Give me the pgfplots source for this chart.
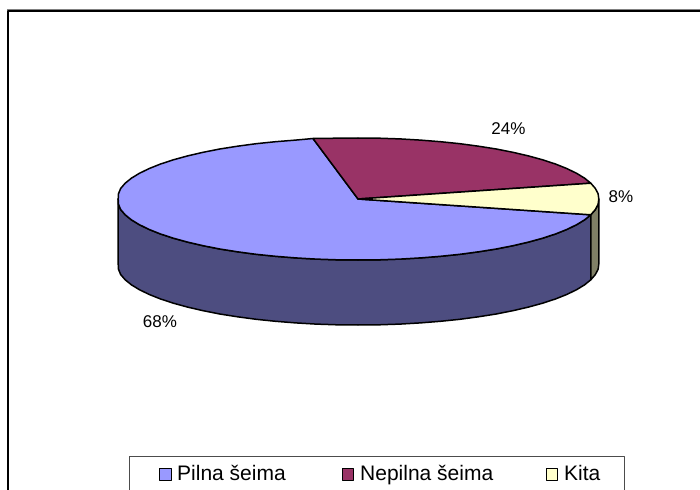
\documentclass[border=0pt]{standalone}
\usepackage{pgfplots}
\pgfplotsset{compat=1.18}
\usepackage{fontspec}
\setmainfont{Liberation Sans}
\definecolor{pblue}{HTML}{9999FF}
\definecolor{pbluew}{HTML}{4D4D80}
\definecolor{pmar}{HTML}{993366}
\definecolor{pyel}{HTML}{FFFFCC}
\definecolor{pyelw}{HTML}{808066}
\newcommand{\lab}{\fontsize{17bp}{18bp}\selectfont}
\newcommand{\leg}{\fontsize{21bp}{22bp}\selectfont}
\begin{document}
\begin{tikzpicture}[x=1bp,y=1bp]
\begin{axis}[
  scale only axis, width=700bp, height=490bp,
  xmin=0, xmax=700, ymin=0, ymax=490, y dir=reverse,
  hide axis, clip=true,
  every axis plot/.append style={line width=1.5bp, draw=black, line join=round},
]
% outer frame
\addplot[line width=2bp, draw=black, forget plot] coordinates {(8,490) (8,10.7) (700,10.7)};
\addplot[line width=0.8bp, draw=black!50, forget plot] coordinates {(7,9.2) (700,9.2)};
% front wall, blue
\addplot[fill=pbluew] coordinates {
(590.8,214.8)(584.5,219.9)(576.4,224.8)(566.7,229.5)(555.4,234)(542.6,238.2)(528.4,242.1)(512.9,245.7)(496.2,249)(478.5,251.8)(459.9,254.3)(440.4,256.3)(420.4,257.9)(399.8,259.1)(379,259.8)(358,260)(337,259.8)(316.2,259.1)(295.6,257.9)(275.6,256.3)(256.1,254.3)(237.5,251.8)(219.8,249)(203.1,245.7)(187.6,242.1)(173.4,238.2)(160.6,234)(149.3,229.5)(139.6,224.8)(131.5,219.9)(125.2,214.8)(120.7,209.6)(118.5,204.3)(118.2,199)
(118.2,264)(118.5,269.3)(120.7,274.6)(125.2,279.8)(131.5,284.9)(139.6,289.8)(149.3,294.5)(160.6,299)(173.4,303.2)(187.6,307.1)(203.1,310.7)(219.8,314)(237.5,316.8)(256.1,319.3)(275.6,321.3)(295.6,322.9)(316.2,324.1)(337,324.8)(358,325)(379,324.8)(399.8,324.1)(420.4,322.9)(440.4,321.3)(459.9,319.3)(478.5,316.8)(496.2,314)(512.9,310.7)(528.4,307.1)(542.6,303.2)(555.4,299)(566.7,294.5)(576.4,289.8)(584.5,284.9)(590.8,279.8)
} -- cycle;
% right wall, olive
\addplot[fill=pyelw] coordinates {
(598.8,199)(598.1,204.3)(595.3,209.6)(590.8,214.8)(590.8,279.8)(595.3,274.6)(598.1,269.3)(598.8,264)
} -- cycle;
% top: Pilna seima 68
\addplot[fill=pblue] coordinates {
(358,199)(590.8,214.8)(584.5,219.9)(576.4,224.8)(566.7,229.5)(555.4,234)(542.6,238.2)(528.4,242.1)(512.9,245.7)(496.2,249)(478.5,251.8)(459.9,254.3)(440.4,256.3)(420.4,257.9)(399.8,259.1)(379,259.8)(358,260)(337,259.8)(316.2,259.1)(295.6,257.9)(275.6,256.3)(256.1,254.3)(237.5,251.8)(219.8,249)(203.1,245.7)(187.6,242.1)(173.4,238.2)(160.6,234)(149.3,229.5)(139.6,224.8)(131.5,219.9)(125.2,214.8)(120.7,209.6)(118.5,204.3)(118.2,199)(118.5,193.7)(120.7,188.4)(125.2,183.2)(131.5,178.1)(139.6,173.2)(149.3,168.5)(160.6,164)(173.4,159.8)(187.6,155.9)(203.1,152.3)(219.8,149)(237.5,146.2)(256.1,143.7)(275.6,141.7)(295.6,140.1)(313,138.5)
} -- cycle;
% top: Nepilna seima 24
\addplot[fill=pmar] coordinates {
(358,199)(313,138.5)(337,138.2)(358,138)(379,138.2)(399.8,138.9)(420.4,140.1)(440.4,141.7)(459.9,143.7)(478.5,146.2)(496.2,149)(512.9,152.3)(528.4,155.9)(542.6,159.8)(555.4,164)(566.7,168.5)(576.4,173.2)(584.5,178.1)(590.8,183.2)
} -- cycle;
% top: Kita 8
\addplot[fill=pyel] coordinates {
(358,199)(590.8,183.2)(595.3,188.4)(598.1,193.7)(598.8,199)(598.1,204.3)(595.3,209.6)(590.8,214.8)
} -- cycle;
% legend box
\addplot[line width=1bp, draw=black!70] coordinates {(129.5,490)(129.5,456)(624.5,456)(624.5,490)};
\addplot[line width=1bp, fill=pblue] coordinates {(159.5,468.5)(171.5,468.5)(171.5,480)(159.5,480)} -- cycle;
\addplot[line width=1bp, fill=pmar] coordinates {(342.5,468.5)(353.5,468.5)(353.5,480)(342.5,480)} -- cycle;
\addplot[line width=1bp, fill=pyel] coordinates {(546.5,468.5)(557.5,468.5)(557.5,480)(546.5,480)} -- cycle;
\node[anchor=base west, inner sep=0pt] at (axis cs:177,480) {\leg Pilna šeima};
\node[anchor=base west, inner sep=0pt] at (axis cs:360,480) {\leg Nepilna šeima};
\node[anchor=base west, inner sep=0pt] at (axis cs:564,480) {\leg Kita};
% data labels
\node[anchor=base, inner sep=0pt] at (axis cs:508.5,135) {\lab 24\%};
\node[anchor=base, inner sep=0pt] at (axis cs:621,203) {\lab 8\%};
\node[anchor=base, inner sep=0pt] at (axis cs:160,327) {\lab 68\%};
\useasboundingbox (axis cs:0,0) rectangle (axis cs:700,490);
\end{axis}
\end{tikzpicture}
\end{document}
